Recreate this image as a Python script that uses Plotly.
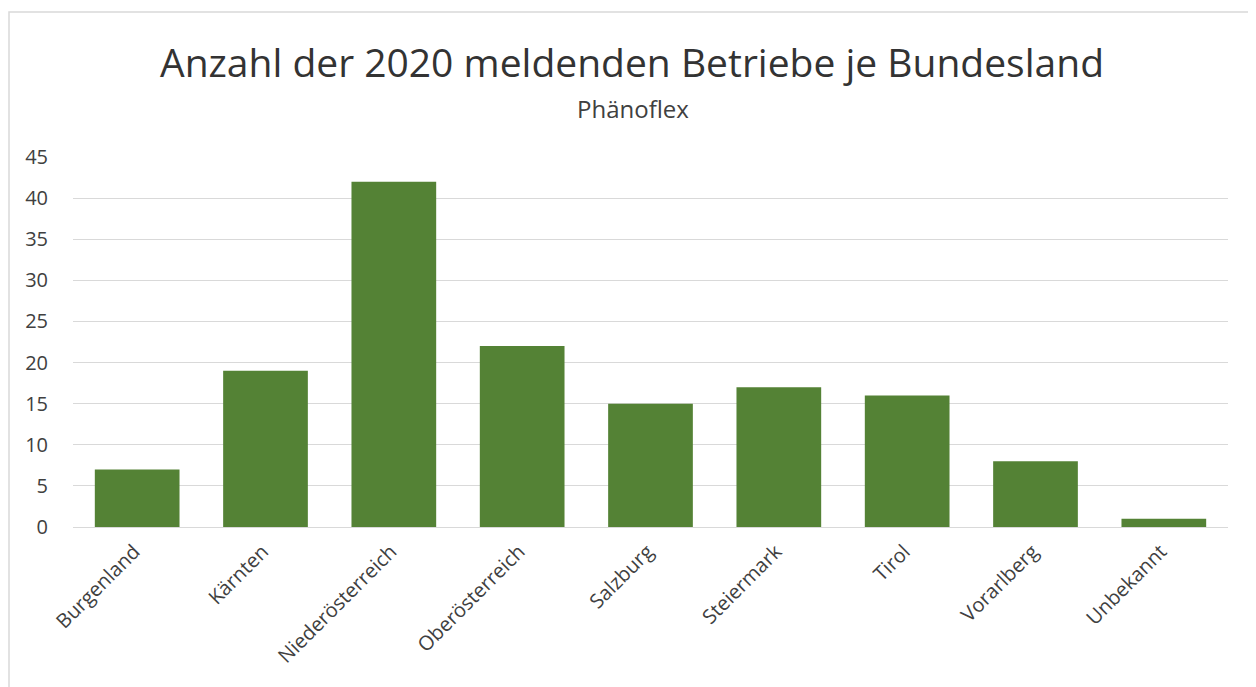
import plotly.graph_objects as go

categories = ["Burgenland", "Kärnten", "Niederösterreich", "Oberösterreich", "Salzburg",
              "Steiermark", "Tirol", "Vorarlberg", "Unbekannt"]
values = [7, 19, 42, 22, 15, 17, 16, 8, 1]
y_ticks = [0, 5, 10, 15, 20, 25, 30, 35, 40, 45]
title_text = "Anzahl der 2020 meldenden Betriebe je Bundesland"
subtitle_text = "Phänoflex"

OFF = 8  # page body margin
W, H = 1256 - OFF, 687 - OFF
# target page-pixel positions of the plot area
px_left, px_right, px_top, px_bottom = 73, 1228, 157, 527
ml = px_left - OFF
mr = OFF + W - px_right
mt = px_top - OFF
mb = OFF + H - px_bottom
pw = px_right - px_left
ph = px_bottom - px_top

def paper_x(px):
    return (px - px_left) / pw

def paper_y(py):
    return (px_bottom - py) / ph

fig = go.Figure(go.Bar(x=categories, y=values, marker=dict(color="#548235", line=dict(width=0)),
                       width=0.66))

fig.update_layout(
    width=W, height=H,
    margin=dict(l=ml, r=mr, t=mt, b=mb),
    paper_bgcolor="white", plot_bgcolor="white",
    font=dict(family="Open Sans", color="#404040"),
    showlegend=False,
    title=dict(text=title_text, x=(632 - OFF) / W, xref="container", xanchor="center",
               y=1 - (63 - OFF) / H, yref="container", yanchor="middle",
               font=dict(family="Open Sans", size=39, color="#333333")),
    xaxis=dict(tickangle=-45, tickfont=dict(size=20, color="#404040"), showgrid=False,
               showline=False, ticks="", zeroline=False, ticklabelstandoff=8,
               ticklabelshift=-3),
    yaxis=dict(range=[0, 45], tickvals=y_ticks, tickfont=dict(size=20, color="#404040"),
               showgrid=True, gridcolor="#d9d9d9", gridwidth=1, zeroline=True,
               zerolinecolor="#d9d9d9", zerolinewidth=1, ticks="outside", ticklen=20,
               tickcolor="rgba(0,0,0,0)", showline=False),
    annotations=[dict(text=subtitle_text, xref="paper", yref="paper",
                      x=paper_x(633), y=paper_y(108), xanchor="center",
                      yanchor="middle", showarrow=False,
                      font=dict(family="Open Sans", size=24, color="#404040"))],
    shapes=[dict(type="rect", xref="paper", yref="paper",
                 x0=paper_x(9), x1=paper_x(1300), y0=paper_y(750), y1=paper_y(12),
                 line=dict(color="#d9d9d9", width=1.5), fillcolor="rgba(0,0,0,0)",
                 layer="below")],
)

fig.write_html("out.html")
